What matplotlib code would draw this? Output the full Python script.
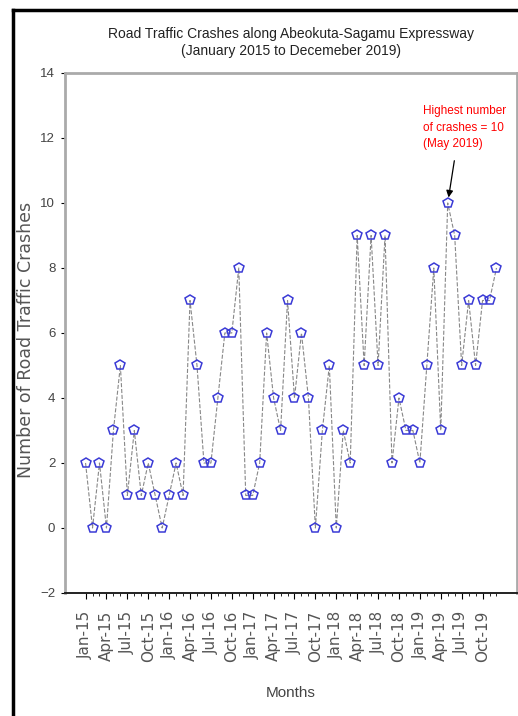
import numpy as np
import matplotlib.pyplot as plt
from matplotlib.lines import Line2D

# monthly crash counts, Jan 2015 - Dec 2019
months = [f"{m}-{y}" for y in range(15, 20)
          for m in ['Jan', 'Feb', 'Mar', 'Apr', 'May', 'Jun',
                    'Jul', 'Aug', 'Sep', 'Oct', 'Nov', 'Dec']]
crashes = [2, 0, 2, 0, 3, 5, 1, 3, 1, 2, 1, 0,
           1, 2, 1, 7, 5, 2, 2, 4, 6, 6, 8, 1,
           1, 2, 6, 4, 3, 7, 4, 6, 4, 0, 3, 5,
           0, 3, 2, 9, 5, 9, 5, 9, 2, 4, 3, 3,
           2, 5, 8, 3, 10, 9, 5, 7, 5, 7, 7, 8]
yticks = [-2, 0, 2, 4, 6, 8, 10, 12, 14]

narrow = 'Liberation Sans'

fig = plt.figure(figsize=(5.18, 7.16), dpi=100)
ax = fig.add_axes([0.1255, 0.1718, 0.8726, 0.7263])

x = np.arange(len(crashes))
ax.plot(x, crashes, linestyle='--', color='#888888', linewidth=0.8,
        marker='p', markersize=7, markerfacecolor='none',
        markeredgecolor='#3b3bd6', markeredgewidth=1.1)

ax.set_ylim(-2, 14)
ax.set_yticks(yticks)
ax.set_yticklabels([str(v).replace('-', '\u2212') for v in yticks],
                   family=narrow, fontsize=9.5, color='#444444')
ax.set_xticks(x[::3])
ax.set_xticklabels(months[::3], rotation=90, fontsize=11, color='#555555')
ax.set_xticks(x, minor=True)
ax.tick_params(axis='x', which='major', length=4, pad=9)
ax.tick_params(axis='x', which='minor', length=2.5)
ax.tick_params(axis='y', length=3, pad=4)

for s in ax.spines.values():
    s.set_color('#aaaaaa')
    s.set_linewidth(2)
ax.spines['bottom'].set_color('#222222')
ax.spines['bottom'].set_linewidth(1.4)

fig.text(0.5618, 0.9406,
         "Road Traffic Crashes along Abeokuta-Sagamu Expressway\n(January 2015 to Decemeber 2019)",
         family=narrow, fontsize=10, color='#222222', ha='center', va='center',
         linespacing=1.35)
fig.text(0.5618, 0.032, "Months", family=narrow, fontsize=11, color='#444444',
         ha='center', va='center')
fig.text(0.05, 0.525, "Number of Road Traffic Crashes", fontsize=12.5, color='#555555',
         rotation=90, ha='center', va='center')

peak = int(np.argmax(crashes))
ax.text(48.4, 13.0, "Highest number\nof crashes = 10\n(May 2019)",
        color='red', family=narrow, fontsize=8.5, ha='left', va='top', linespacing=1.5)
ax.annotate("", xy=(x[peak], crashes[peak]), xytext=(x[peak] + 0.95, 11.3),
            arrowprops=dict(arrowstyle='-|>', color='black', lw=0.9,
                            shrinkA=0, shrinkB=4))

# black frame on the left and top
fig.add_artist(Line2D([13 / 518, 13 / 518], [0, 1 - 10 / 716], transform=fig.transFigure,
                      color='black', linewidth=2.5))
fig.add_artist(Line2D([13 / 518, 1], [1 - 10 / 716, 1 - 10 / 716], transform=fig.transFigure,
                      color='black', linewidth=2.5))

fig.savefig('out.png', dpi=100)
